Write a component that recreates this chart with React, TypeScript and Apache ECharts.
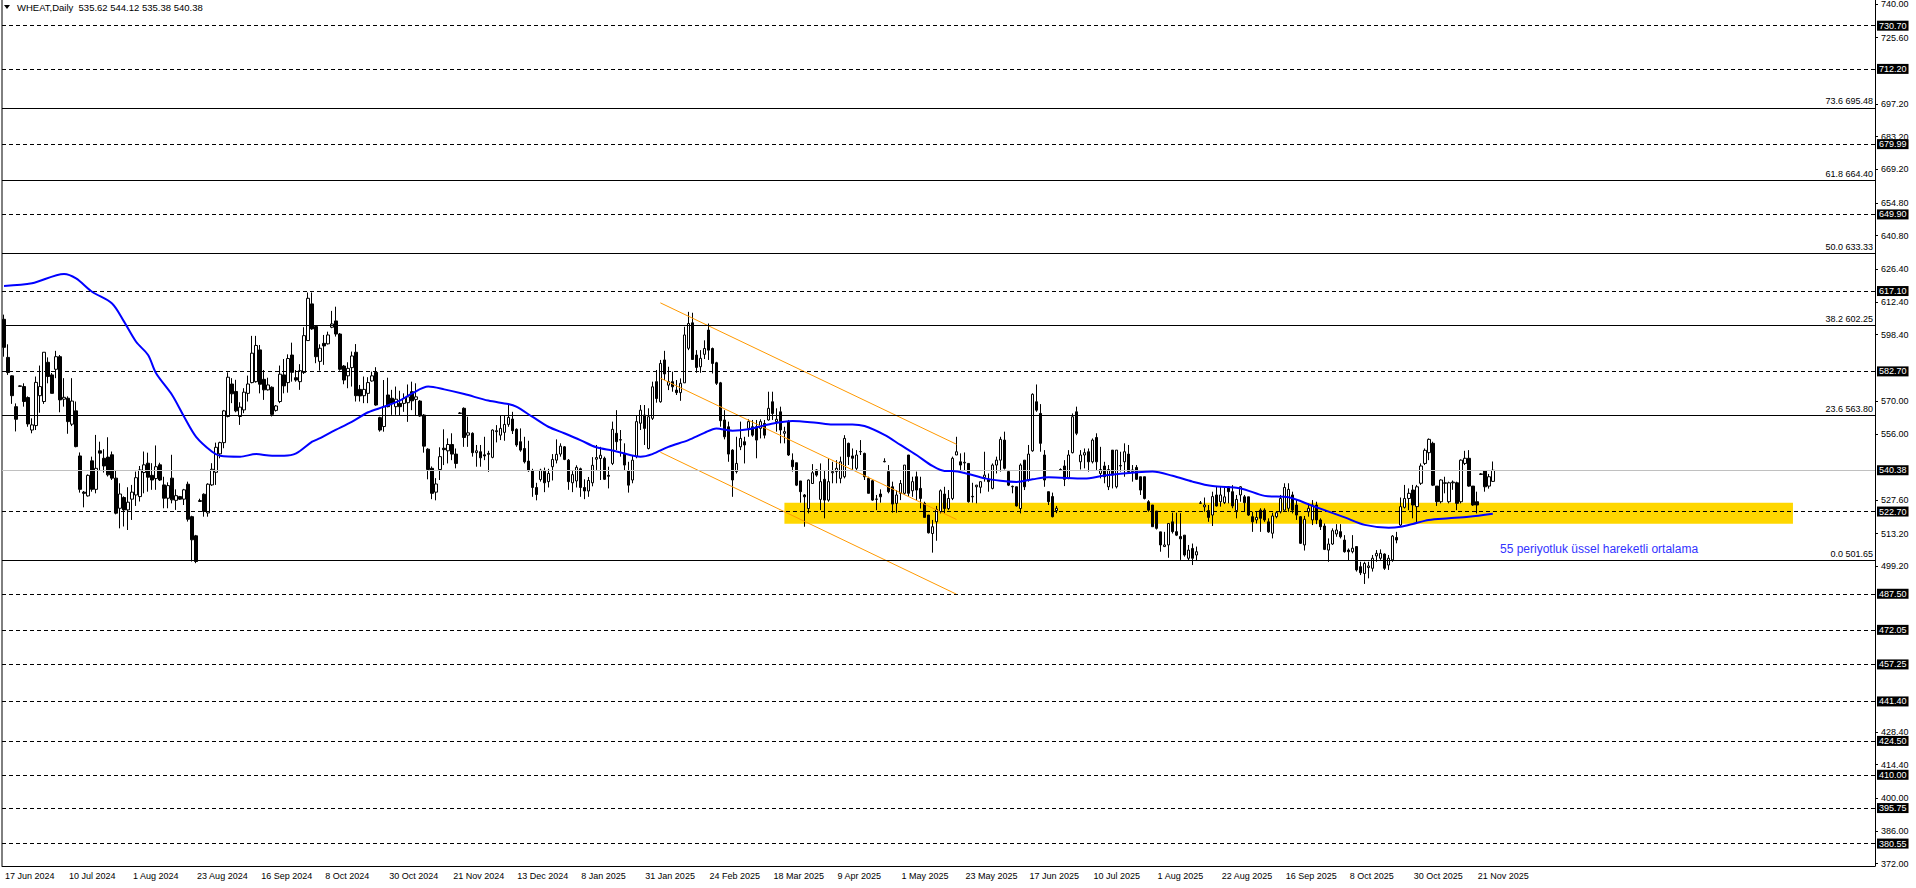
import React, { useEffect, useRef } from 'react';
import * as echarts from 'echarts';

// ---------- text / ticks ----------
const headerText = 'WHEAT,Daily  535.62 544.12 535.38 540.38';
const emaNote = '55 periyotluk üssel hareketli ortalama';
const xLabels = [
  '17 Jun 2024', '10 Jul 2024', '1 Aug 2024', '23 Aug 2024', '16 Sep 2024', '8 Oct 2024',
  '30 Oct 2024', '21 Nov 2024', '13 Dec 2024', '8 Jan 2025', '31 Jan 2025', '24 Feb 2025',
  '18 Mar 2025', '9 Apr 2025', '1 May 2025', '23 May 2025', '17 Jun 2025', '10 Jul 2025',
  '1 Aug 2025', '22 Aug 2025', '16 Sep 2025', '8 Oct 2025', '30 Oct 2025', '21 Nov 2025',
];
const barsPerLabel = 16;
const totalSlots = 468;
const yTicks = [
  740.0, 725.6, 697.2, 683.2, 669.2, 654.8, 640.8, 626.4, 612.4, 598.4, 570.0,
  556.0, 527.6, 513.2, 499.2, 428.4, 414.4, 400.0, 386.0, 372.0,
];
const yMin = 370.95;
const yMax = 741.7;

// ---------- levels ----------
const dashedLevels = [730.7, 712.2, 679.99, 649.9, 617.1, 582.7, 522.7, 487.5, 472.05, 457.25, 441.4, 424.5, 410.0, 395.75, 380.55];
const fibLevels: [string, number][] = [
  ['73.6', 695.48], ['61.8', 664.4], ['50.0', 633.33], ['38.2', 602.25], ['23.6', 563.8], ['0.0', 501.65],
];
const lastPrice = 540.38;

// support zone [startBar, endBar], [low, high]
const zoneBars = [195, 447];
const zonePrices = [517.5, 526.5];

// channel lines [bar, price]
const channelUpper = [[164, 612.05], [238, 551.5]];
const channelMiddle = [[164, 579.8], [238, 519.3]];
const channelLower = [[164, 548.1], [238, 487.3]];

// ---------- candles [open, close, low, high] ----------
const candles2024a = [
  [605, 593, 589, 607], [588.7, 582.2, 581.2, 594.3], [580.8, 572.3, 568.8, 581], [567.6, 562.2, 557, 569],
  [576.5, 576.3, 576.2, 576.7], [576.2, 569.8, 567.6, 577.6], [571.5, 560.2, 559, 572], [557.6, 559.8, 556.2, 562.6],
  [559.5, 578, 557.6, 580.5], [572.3, 576.2, 565, 585.2], [569.8, 590.9, 568.8, 590.9], [586.6, 580.5, 577.6, 588.7],
  [581.2, 573.3, 573.3, 582], [583.6, 589, 579.8, 591.5], [589, 570.5, 565.2, 589.7], [570.8, 571.6, 567.6, 579.8],
  [571.2, 561.2, 556, 572], [560.1, 570, 559.3, 579.8], [565.8, 550.5, 550.2, 569.8], [546.5, 532.2, 530.8, 548],
  [531, 530.5, 524.5, 531.5], [529.4, 538.2, 529.1, 538.6], [544.4, 532.2, 531.2, 546.2], [532.2, 541.2, 530.5, 555.5],
  [548.7, 547.7, 540.5, 552.6], [545.5, 542.2, 539.4, 549.4], [546, 538.4, 537.7, 554.5], [547, 537, 536.2, 548.4],
  [537, 522, 521.5, 540.5], [524.1, 530.2, 515.5, 534.8], [528.7, 523.4, 516.3, 529.2], [523.4, 526.7, 514.8, 533.1],
  [528, 531, 519.1, 534.1], [529.8, 537.2, 525.1, 539.8], [529.1, 540.5, 527, 542.2], [539.4, 542.7, 530.5, 548.4],
  [543.4, 537.4, 531.2, 547.9], [538.2, 536.2, 532, 543.4], [536.8, 541.9, 532, 551], [542.7, 536.2, 535.8, 543.6],
  [534.1, 528.4, 524.1, 537.6], [528.4, 533.8, 524.1, 535.2], [537, 527.7, 526.2, 547], [527.5, 529.5, 523.4, 532.2],
  [529.1, 528, 527.7, 529.4], [528, 532, 525.5, 532.4], [534.4, 519.4, 518.4, 535.5], [520.5, 510.6, 501.3, 520.9],
  [512.3, 501.3, 500.6, 512.7], [527, 527.4, 526.8, 528.2], [530.1, 522.7, 520.5, 530.5], [522.1, 534.4, 520.5, 534.8],
  [534.1, 540.8, 533.7, 543.4], [539.5, 550.2, 534.1, 552.2], [547.4, 552.2, 545.5, 552.6], [552.2, 565.8, 549.8, 566.2],
  [563.4, 580.2, 563, 582.3], [577.3, 573.1, 569.1, 579.8], [574.1, 565.8, 565.2, 579.1], [563.4, 567.4, 559.8, 569.5],
  [566.2, 573.8, 564.8, 575.5], [573.3, 577.3, 569.8, 580.9], [577.9, 590.5, 577.6, 597.9], [578.3, 593.8, 577.9, 597.9],
  [591.9, 577.2, 573.3, 594], [579.3, 574.8, 570.5, 583.3], [574.8, 576.9, 574.5, 580], [575.9, 564.3, 563.4, 576.3],
  [566, 567.9, 565.5, 568.3], [569.8, 581.5, 569.1, 585.2], [581.2, 576.5, 573.3, 588], [577.9, 588.2, 573.6, 590],
  [589.7, 582.3, 578.3, 595], [580, 579, 578.3, 583.3], [578.3, 583, 574.8, 585.8], [582.2, 598, 581.6, 601.6],
  [595.9, 614, 595.9, 616.5], [611.6, 600.9, 600.5, 616.5], [601.9, 589, 586.2, 602.3], [587, 592.6, 583, 594.3],
  [594.7, 593.6, 585.5, 598.3], [594.5, 598.3, 594.2, 599.7], [601.6, 603, 601.2, 608.6], [604.3, 598.7, 597.6, 610.4],
  [598.7, 583.6, 583, 599.1], [585, 579, 577.2, 585.4], [580.8, 584, 575.5, 586.6], [584.3, 589.3, 576.2, 591.2],
  [590.9, 572.3, 569.8, 594.4], [575, 572.2, 569.8, 576.9], [572.3, 575, 569.1, 580.5], [573.3, 577.9, 569.1, 580.2],
  [578.6, 580.8, 578.3, 582.6], [582.3, 568.3, 568, 584.5], [562.9, 557.6, 556.9, 563.3], [559.1, 567.6, 556.9, 579],
  [572.6, 567.6, 567.3, 580], [571.2, 569, 564.1, 574.8], [567.6, 570.8, 564.1, 576.2],
];
const candles2024b = [
  [569, 567.6, 564, 574.4], [569, 571.1, 565.4, 573.3], [569.3, 571.8, 561.1, 577.1], [574, 570.1, 566.1, 578.3],
  [570.7, 571.8, 564, 577.6], [570, 563.6, 563.3, 570.4], [564, 550.7, 547.9, 564.4], [549.4, 540.7, 536.5, 549.8],
  [541.2, 530.5, 528, 542], [531, 534.5, 527.5, 537], [540.7, 546.2, 536.2, 550.2], [549.8, 549.2, 542.6, 557.9],
  [548.7, 551.4, 543.3, 554], [551.4, 547.3, 544.7, 556.2], [547.3, 543.3, 541.2, 549.7], [564.7, 564.9, 564.5, 565.3],
  [566.9, 554.4, 550.4, 567.3], [555.4, 556.4, 550.4, 563.3], [556.2, 547.9, 546.2, 556.6], [547.9, 548.7, 541.9, 551.2],
  [548.3, 545.7, 541.9, 551.2], [547, 546.5, 544.7, 554.7], [547.6, 547.2, 539.7, 548.7], [545.9, 557.6, 545.5, 557.9],
  [556.9, 557.3, 552.3, 559.7], [555.4, 558.3, 553.3, 564], [556.6, 560, 553, 564], [560, 563, 559, 568.3],
  [562.3, 557.3, 555.9, 565.4], [557.9, 551.2, 550.4, 558.3], [552.6, 549, 548.3, 558.3], [549.7, 544, 543.3, 554.7],
  [544.3, 540.2, 539.7, 553], [540.2, 533, 529, 541], [533, 530, 527.5, 535], [536.4, 540.4, 535.5, 541],
  [540, 535, 531, 541.5], [535.5, 539, 533, 541], [541.9, 545, 536, 547.3], [544.7, 547.2, 543.3, 553.6],
  [547.3, 550.7, 546.2, 551.9], [550.4, 545, 544.7, 550.7], [544.7, 535.5, 532, 545.2], [535, 538.5, 531, 540],
  [535.8, 541.6, 533, 542.5], [541, 533, 529, 541.5], [533, 531.5, 528, 536.5], [531.5, 536, 529, 537.5],
  [535, 542.5, 533.5, 546], [545.1, 545.8, 540.5, 551.2], [545.4, 546.8, 536.2, 550.4], [545.5, 536.5, 536.2, 546.2],
  [538.2, 537.8, 532.6, 541.9],
];
const candles2025a = [
  [543.3, 557.9, 542.6, 561.2], [556.2, 552.6, 549, 566.1], [553.3, 553.5, 546.2, 557.6], [547.6, 542.6, 540.2, 551.9],
  [540.2, 534, 530.8, 544], [536.2, 544.7, 534.8, 546.9], [546.2, 561.2, 545.5, 564], [560.5, 566.1, 557.6, 568.3],
  [564, 558.3, 551.2, 568.3], [549.7, 563.3, 549.3, 566.9], [562.6, 576.1, 561.9, 578.3], [578.3, 571.1, 569.3, 583.3],
  [569.7, 586.1, 569.3, 587.6], [587.6, 581.6, 579, 591.5], [576.8, 578.3, 574.7, 584.7], [578.3, 576.1, 574, 582.6],
  [574.7, 573.6, 572.6, 579], [573.6, 577.6, 570.1, 579.7], [577.8, 598.3, 577.8, 601.8], [592.6, 603.2, 591.8, 608.2],
  [603.5, 587.8, 587.8, 607.8], [589.7, 584.4, 582.1, 591.8], [584.7, 588.3, 582.1, 591.8], [590, 592.5, 588, 596],
  [600.4, 591.8, 587.6, 603.2], [592.5, 586.1, 581.8, 592.9], [586.4, 577.6, 576.9, 586.8], [577.8, 561.6, 559, 578.2],
  [561.9, 554.7, 553.6, 566.1], [559, 547.3, 544, 561.2], [549, 536.2, 529, 549.4], [539.8, 543.3, 539, 554.7],
  [550.4, 554, 549, 561.2], [552.6, 551.2, 543.3, 554.7], [558.3, 561.2, 554.7, 562.2], [559, 555.4, 554.7, 561.9],
  [559, 553.3, 545.5, 561.9], [558.3, 561.2, 554, 562.2], [560.4, 555.4, 554, 561.9], [561.9, 566.9, 561.6, 574],
  [569.7, 564.7, 561.9, 574], [561.2, 562.2, 556.9, 566.9], [565.4, 557.6, 551.9, 567.6], [556.2, 556.9, 551.9, 559],
  [561.2, 546.9, 546.5, 561.9], [544.7, 541.9, 539.8, 547.6], [543.6, 534, 533.6, 543.6], [535.8, 531.2, 526.5, 535.8],
  [529.8, 529, 516.2, 530.2], [524, 536.2, 521.9, 536.4], [534.7, 539.3, 534.5, 543], [540.5, 538.3, 537.6, 540.8],
  [527.9, 535.5, 523.3, 543.3], [536.5, 527.6, 519.8, 540.5], [527.6, 535.5, 526.9, 545.5], [539.3, 539.8, 534.8, 544],
  [539.8, 541.2, 534.8, 544.7], [536.9, 544, 534.8, 546.2], [537.6, 554, 536.9, 555.4], [551.9, 546.2, 542.6, 552.2],
  [546.5, 545.5, 540.5, 549.7], [541.2, 546.9, 540.5, 549], [548.3, 548.4, 546.9, 553.3], [547.6, 537.6, 536.2, 547.9],
  [536.9, 530.5, 530.5, 537.6], [535.9, 527.6, 527.3, 536.2], [527.9, 528.1, 523.3, 529.8], [530.2, 529, 526.5, 532.2],
  [544, 544.2, 543.8, 545.5], [539.8, 531.2, 530.5, 542.6], [533.3, 525.9, 522.2, 535.5], [526.2, 529.8, 522.2, 531.9],
  [530.5, 534.7, 527.6, 536.2], [530.5, 542.6, 529.8, 542.6], [546.9, 530.5, 529, 546.9], [531.6, 535.5, 529, 537.6],
  [537.6, 531.9, 527.6, 539.8], [532.6, 528.3, 524, 537.6], [526.2, 520.2, 520.2, 526.9], [521.2, 513.6, 513.3, 521.2],
  [513.3, 516.2, 505.1, 519.1], [518.3, 523.6, 510.2, 525.1], [522.6, 531.6, 521.9, 532.2], [530.2, 524, 521.9, 533.3],
  [524, 528.3, 523.3, 531.9], [528.3, 545.5, 527.6, 546.2], [546.9, 548.3, 546.9, 554.7], [544, 542.6, 540.5, 547.6],
  [543.5, 543.8, 540, 548], [543.3, 526.9, 526.5, 543.3], [529.2, 529, 526.5, 535], [533.3, 534, 526.2, 534.1],
  [533.1, 535.5, 530.5, 535.5], [537.3, 538.3, 535.5, 548.3], [536.5, 535.5, 531.2, 539], [532.6, 542.6, 532.2, 543.3],
  [542.6, 544.7, 539, 546.2], [544.7, 553.6, 539.8, 554.7], [553.3, 541.2, 540.7, 556.9], [539.8, 534, 533.6, 540.5],
  [533.3, 533.5, 530.5, 533.8], [533.3, 525.1, 524.8, 533.3], [524, 542.6, 521.9, 543.3], [544.7, 533.3, 531.9, 544.7],
  [536.2, 547.3, 535.5, 551.2], [548.7, 572.9, 548.3, 573.3], [569.7, 566.1, 565.4, 577.1], [564.7, 551.9, 548.3, 568.7],
  [546.9, 536.2, 533.3, 549], [531.2, 526.9, 525.5, 531.2],
];
const candles2025b = [
  [529.1, 520.5, 520.2, 530.8], [523.1, 524.1, 522, 525.1], [540.5, 540.7, 540.3, 541.2], [542.2, 536.5, 533.6, 544.7],
  [536.9, 546.9, 536.5, 549], [547.9, 563.3, 547.6, 564.7], [565.4, 556.2, 555.4, 567.6], [544, 546.9, 540.7, 549],
  [546.9, 547.9, 541.2, 549.7], [548.3, 544, 539.8, 549.7], [544, 553.3, 543.3, 554], [554.4, 544, 540.5, 556.2],
  [539, 540.7, 536.9, 550.4], [542.2, 537.6, 534.8, 544], [533.3, 540.7, 531.9, 542.6], [549, 538.3, 532.6, 549],
  [533.3, 549, 532.6, 549], [542.2, 542.4, 539.8, 548.3], [544, 548.3, 537.6, 551.9], [547.3, 539.8, 539, 551.2],
  [539.8, 540.5, 535.5, 542.6], [541.6, 536.5, 536.2, 542.6], [537.6, 531.9, 529.8, 537.6], [537.6, 528.3, 527.9, 537.6],
  [526.9, 523.3, 522.6, 527.6], [525.5, 516.2, 516.2, 525.5], [522.9, 515.5, 515, 522.9], [514, 508.4, 505.5, 514],
  [507.7, 508.4, 507.6, 514], [508.4, 517.6, 502.9, 517.6], [518.3, 514.1, 513.3, 522.2], [514.1, 512.6, 512.2, 522.2],
  [512, 511, 502, 522], [512.6, 504.1, 503.4, 512.6], [502.7, 506.2, 501.7, 508.4], [506.9, 502.7, 499.8, 509],
  [504.1, 505.5, 501.9, 507.7], [526.2, 526.4, 526, 527.2], [524.7, 525.5, 522.6, 528.7], [523.1, 520.2, 518.3, 525.5],
  [521.2, 529.1, 516.5, 531.2], [529.8, 525.1, 524.8, 533.3], [526.9, 529.8, 524.8, 533.3], [526.5, 529, 525.9, 533.6],
  [533.3, 531.2, 526.2, 533.6], [531.2, 525.1, 524.1, 534], [523.1, 527.9, 519.8, 529.8], [529.8, 533.3, 526.9, 533.6],
  [529, 526.5, 522.6, 529.8], [529, 521.2, 520.8, 529], [520.5, 518.3, 514, 522.6], [519.1, 520.2, 517.6, 522.6],
  [523.3, 519.8, 514, 524.1], [523.3, 519.1, 518.3, 524.1], [518.3, 514, 513.6, 519.8], [513.4, 520.8, 511.2, 522.2],
  [520.5, 522.2, 519.8, 522.6], [522.6, 528.3, 521.9, 529.8], [523.3, 533, 523.1, 534.8], [524.1, 532.2, 522.6, 534.8],
  [529.8, 523.3, 521.9, 531.2], [525.5, 521.2, 519.1, 527.6], [520.5, 509.1, 508.8, 520.8], [508.4, 519.4, 506, 520.8],
  [522.6, 524.1, 520.5, 526.2], [519.1, 525.5, 516.9, 527.6], [525.5, 519.1, 517.3, 526.9], [519.1, 516.2, 514.8, 519.8],
  [516.5, 506.5, 506.2, 517.6], [506.2, 508.8, 501.2, 511.2], [508.8, 514.5, 508.4, 515.5], [513.1, 514.8, 511.9, 517.3],
  [514.1, 511.9, 511.2, 517.3], [510.5, 505.5, 505.1, 512.6], [506.2, 505.5, 501.9, 506.9], [505.5, 507, 504.8, 512.6],
  [507.7, 497.7, 497, 507.7], [499.1, 496.5, 495.5, 501.2], [496.2, 500.5, 491.7, 501.2], [498.7, 499.4, 494.1, 501.2],
  [498.4, 502.7, 497, 504.1], [503.7, 504.8, 501.2, 506.2], [502.7, 504.8, 502, 506.5], [504.5, 498.4, 497.7, 504.8],
  [499.8, 502.7, 497.7, 504.1], [502, 512.2, 501.2, 512.6], [511.6, 510.5, 509.1, 514], [516.9, 524.8, 516.2, 528.7],
  [524.5, 528.3, 524, 534.1], [528.3, 530.5, 523.3, 532.6], [531.9, 525.5, 519.8, 534.1], [524.8, 533.3, 517.6, 534.1],
  [534.8, 542.2, 534.1, 543.3], [543.3, 548.9, 542.6, 549.7], [547.9, 553.6, 544.7, 554], [551.9, 534, 533.6, 552.6],
  [533.6, 526.9, 525.1, 533.6], [526.9, 536.2, 526.2, 536.5], [534.8, 535, 530.5, 537.6], [526.9, 535, 526.2, 535.5],
  [535, 535.3, 532, 536], [535, 526.2, 523.3, 535.5], [526.9, 544.7, 526.2, 545], [543.3, 545.5, 542.6, 548.7],
  [545.5, 533.6, 533.3, 549], [533.6, 525.5, 525.1, 533.6], [526.9, 525.5, 521.9, 531.2], [538.6, 538.8, 538.4, 539.2],
  [540.2, 533.3, 531.2, 540.4], [533.6, 537.6, 532.5, 538.8], [535.62, 540.38, 535.38, 544.12],
];

// 55-period EMA [bar, value]
const ema55 = [
  [0, 619.3], [7, 620.4], [15, 624.4], [18, 622.5], [22, 616.8], [27, 611.8], [30, 604], [33, 595.4], [36, 589.7],
  [38, 581.9], [42, 572.6], [45, 563.3], [48, 554.7], [52, 548.3], [54, 546.6], [59, 546.2], [63, 547.3], [67, 546.6],
  [70, 546.6], [73, 547.6], [77, 552.6], [79, 554.1], [82, 556.9], [87, 561.2], [91, 565.2], [95, 567.6], [99, 570.3],
  [102, 573.3], [106, 576.2], [110, 575.0], [115, 573], [121, 570.2], [126, 568.7], [128, 567.6], [132, 563.3],
  [136, 559], [140, 556.2], [144, 553.3], [148, 550.2], [152, 548.8], [154, 548], [159, 546.2], [162, 547.3],
  [166, 550.4], [171, 553.3], [175, 556.4], [178, 558.3], [182, 557.3], [186, 557.9], [191, 560], [197, 561.5],
  [203, 560.7], [207, 560], [212, 560], [215, 559.3], [220, 555.5], [224, 551.2], [228, 546.9], [232, 542.2],
  [235, 540.1], [237, 540.1], [241, 538.8], [245, 536.9], [249, 535.9], [253, 535.4], [257, 536.5], [261, 537.4],
  [270, 536.8], [275, 538.1], [287, 539.8], [292, 538], [297, 535.5], [302, 533.6], [309, 532.6], [315, 529.4],
  [321, 528.8], [327, 525.1], [335, 520.2], [340, 517], [346, 515.8], [349, 516.2], [352, 517.4], [356, 519.1],
  [361, 519.8], [366, 520.5], [372, 521.8],
];

const FONT = '"Liberation Sans", Arial, sans-serif';

export default function App() {
  const ref = useRef<HTMLDivElement>(null);

  useEffect(() => {
    document.body.style.margin = '0';
    if (!ref.current) return;
    const chart = echarts.init(ref.current, undefined, { renderer: 'svg' });

    const candles = [...candles2024a, ...candles2024b, ...candles2025a, ...candles2025b];
    const categories = Array.from({ length: totalSlots }, (_, i) => String(i));
    const isLabelIdx = (i: number) => i % barsPerLabel === 0 && i / barsPerLabel < xLabels.length;

    const boxLabel = (v: number) => ({
      show: true,
      position: 'end',
      distance: 2,
      formatter: v.toFixed(2),
      backgroundColor: '#000',
      color: '#fff',
      fontFamily: FONT,
      fontSize: 9,
      padding: [1, 2, 0, 2],
    });

    const markLineData: any[] = [];
    dashedLevels.forEach((v) =>
      markLineData.push({
        yAxis: v,
        lineStyle: { color: '#000', width: 1, type: [4, 3] },
        label: boxLabel(v),
      })
    );
    fibLevels.forEach(([pct, v]) =>
      markLineData.push({
        yAxis: v,
        lineStyle: { color: '#000', width: 1, type: 'solid' },
        label: {
          show: true,
          position: 'insideEndTop',
          distance: 2,
          formatter: `${pct} ${v.toFixed(2)}`,
          color: '#000',
          fontFamily: FONT,
          fontSize: 9,
        },
      })
    );
    markLineData.push({
      yAxis: lastPrice,
      lineStyle: { color: '#c0c0c0', width: 1, type: 'solid' },
      label: boxLabel(lastPrice),
    });

    const channel = (pts: number[][]) => ({
      type: 'line',
      data: pts,
      symbol: 'none',
      silent: true,
      z: 4,
      lineStyle: { color: '#FF9900', width: 1 },
    });

    chart.setOption({
      animation: false,
      backgroundColor: '#fff',
      grid: { left: 2, top: 0, width: 1873, height: 866, containLabel: false, outerBoundsMode: 'none' },
      xAxis: {
        type: 'category',
        data: categories,
        boundaryGap: true,
        axisLine: { lineStyle: { color: '#000', width: 1 } },
        axisTick: {
          alignWithLabel: true,
          interval: (i: number) => isLabelIdx(i),
          length: 4,
          lineStyle: { color: '#000' },
        },
        axisLabel: {
          interval: (i: number) => isLabelIdx(i),
          formatter: (_v: string, i: number) => (isLabelIdx(i) ? xLabels[i / barsPerLabel] : ''),
          align: 'left',
          padding: [0, 0, 0, 1],
          margin: 5,
          color: '#000',
          fontFamily: FONT,
          fontSize: 9,
          hideOverlap: false,
        },
        splitLine: { show: false },
      },
      yAxis: {
        type: 'value',
        position: 'right',
        min: yMin,
        max: yMax,
        scale: true,
        splitLine: { show: false },
        axisLine: { show: true, lineStyle: { color: '#000', width: 1 } },
        axisTick: { show: true, customValues: yTicks, length: 3, lineStyle: { color: '#000' } },
        axisLabel: {
          customValues: yTicks,
          formatter: (v: number) => Number(v).toFixed(2),
          margin: 6,
          color: '#000',
          fontFamily: FONT,
          fontSize: 9,
          hideOverlap: false,
        },
      },
      series: [
        {
          type: 'line',
          data: [[zoneBars[0], zonePrices[0]]],
          symbol: 'none',
          silent: true,
          z: 1,
          lineStyle: { opacity: 0 },
          markArea: {
            silent: true,
            itemStyle: { color: '#FFD700' },
            data: [[{ coord: [zoneBars[0], zonePrices[1]] }, { coord: [zoneBars[1], zonePrices[0]] }]],
          },
        },
        {
          type: 'candlestick',
          data: candles,
          barWidth: 3,
          z: 3,
          silent: true,
          itemStyle: {
            color: '#fff',
            color0: '#000',
            borderColor: '#000',
            borderColor0: '#000',
            borderColorDoji: '#000',
            borderWidth: 1,
          },
          markLine: {
            silent: true,
            symbol: ['none', 'none'],
            animation: false,
            data: markLineData,
          },
        },
        channel(channelUpper),
        channel(channelMiddle),
        channel(channelLower),
        {
          type: 'line',
          data: ema55,
          symbol: 'none',
          smooth: 0.3,
          silent: true,
          z: 5,
          lineStyle: { color: '#0000FF', width: 2 },
        },
      ],
      graphic: [
        { type: 'line', shape: { x1: 2, y1: 0, x2: 2, y2: 866 }, style: { stroke: '#000', lineWidth: 1 } },
        { type: 'polygon', shape: { points: [[4, 5], [10, 5], [7, 9]] }, style: { fill: '#000' } },
        {
          type: 'text',
          x: 17,
          y: 2,
          style: { text: headerText, fill: '#000', font: `9.5px ${FONT}` },
        },
        {
          type: 'text',
          x: 1500,
          y: 543,
          style: { text: emaNote, fill: '#3333FF', font: `12px ${FONT}` },
        },
      ],
    });

    return () => chart.dispose();
  }, []);

  return <div ref={ref} style={{ width: 1916, height: 888 }} />;
}
